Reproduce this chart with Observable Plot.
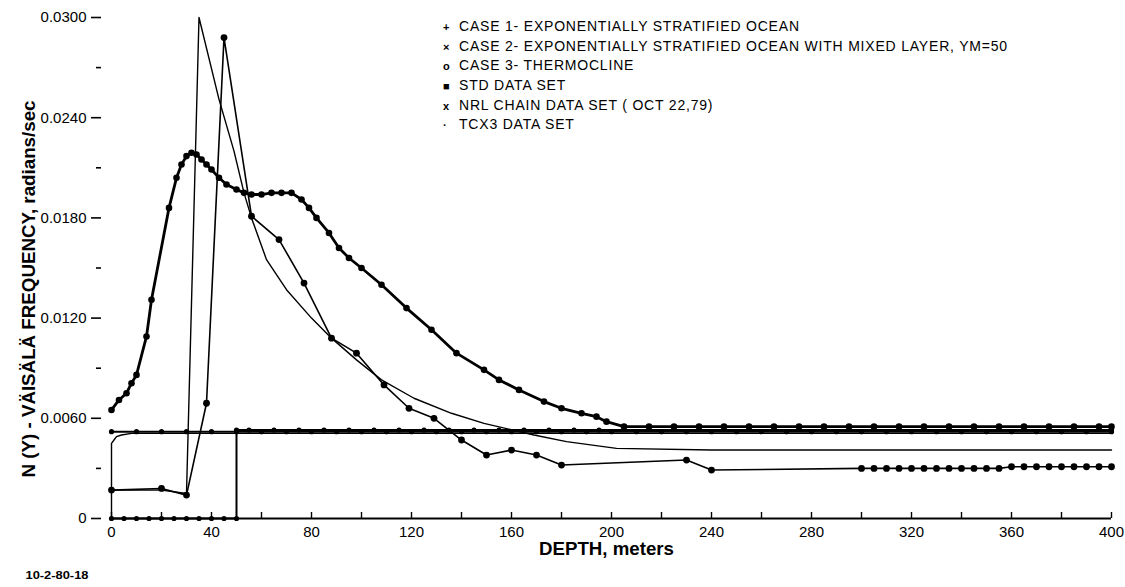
<!DOCTYPE html>
<html><head><meta charset="utf-8">
<script src="https://cdn.jsdelivr.net/npm/d3@7"></script>
<script src="https://cdn.jsdelivr.net/npm/@observablehq/plot@0.6"></script>
<style>
body{margin:0;background:#fff;}
#wrap{position:relative;width:1125px;height:587px;overflow:hidden;}
#legend{position:absolute;left:443px;top:17px;font-family:"Liberation Sans",Arial,sans-serif;font-size:14px;letter-spacing:0.8px;color:#000;white-space:nowrap;}
#legend div{height:19.7px;line-height:19.7px;}
#legend .m{display:inline-block;width:16px;font-weight:bold;letter-spacing:0;font-size:11px;}
</style></head>
<body><div id="wrap"><div id="chart"></div>
<div id="legend">
<div><span class="m">+</span>CASE 1- EXPONENTIALLY STRATIFIED OCEAN</div>
<div><span class="m">×</span>CASE 2- EXPONENTIALLY STRATIFIED OCEAN WITH MIXED LAYER, YM=50</div>
<div><span class="m">o</span>CASE 3- THERMOCLINE</div>
<div><span class="m">■</span>STD DATA SET</div>
<div><span class="m">x</span>NRL CHAIN DATA SET ( OCT 22,79)</div>
<div><span class="m">·</span>TCX3 DATA SET</div>
</div></div>
<script>
// ---- tick values / labels ----
const yMajor = [0, 0.006, 0.012, 0.018, 0.024, 0.030];
const yMajorLabels = ["0", "0.0060", "0.0120", "0.0180", "0.0240", "0.0300"];
const yMinor = [0.003, 0.009, 0.015, 0.021, 0.027];
const xLabelTicks = [0, 40, 80, 120, 160, 200, 240, 280, 320, 360, 400];
const xTickMarks = [0, 20, 40, 60, 80, 100, 120, 140, 160, 180, 200, 220, 240, 260, 280, 300, 320, 340, 360, 380, 400];
const xTitle = "DEPTH, meters";
const yTitle = "N (Y) - VÄISÄLÄ FREQUENCY, radians/sec";
const figCode = "10-2-80-18";

// ---- CASE 1: exponentially stratified ocean ----
const case1Depth = [0,10,20,30,40,50,60,70,80,90,100,110,120,130,140,150,160,170,180,190,200,210,220,230,240,250,260,270,280,290,300,310,320,330,340,350,360,370,380,390,400];
const case1N = [0.0052,0.0052,0.0052,0.0052,0.0052,0.0052,0.0052,0.0052,0.0052,0.0052,0.0052,0.0052,0.0052,0.0052,0.0052,0.0052,0.0052,0.0052,0.0052,0.0052,0.0052,0.0052,0.0052,0.0052,0.0052,0.0052,0.0052,0.0052,0.0052,0.0052,0.0052,0.0052,0.0052,0.0052,0.0052,0.0052,0.0052,0.0052,0.0052,0.0052,0.0052];

// ---- CASE 2: with mixed layer, YM = 50 ----
const case2Depth = [0,5,10,15,20,25,30,35,40,45,50,50,55,65,75,85,95,105,115,125,135,145,155,165,175,185,195,400];
const case2N = [0,0,0,0,0,0,0,0,0,0,0,0.0053,0.0053,0.0053,0.0053,0.0053,0.0053,0.0053,0.0053,0.0053,0.0053,0.0053,0.0053,0.0053,0.0053,0.0053,0.0053,0.0053];

// ---- CASE 3: thermocline ----
const case3Depth = [0,20,30,35,43,49,53,56,62,70,80,88,98,108,121,136,149,169,182,202,240,300,400];
const case3N = [0.0017,0.0017,0.0015,0.0300,0.0251,0.0220,0.0195,0.0180,0.0155,0.0137,0.0120,0.0108,0.0095,0.0083,0.0072,0.0063,0.0057,0.0050,0.0046,0.0042,0.0041,0.0041,0.0041];

// ---- STD data set ----
const stdDepth = [0,3,6,8,10,14,16,23,26,28,30,32,34,36,38,40,43,46,50,53,56,60,64,68,72,76,79,82,87,91,95,100,108,118,128,138,149,155,163,173,180,188,194,198,205,215,225,235,245,255,265,275,285,295,305,315,325,335,345,355,365,375,385,395,400];
const stdN = [0.0065,0.0071,0.0075,0.0081,0.0086,0.0109,0.0131,0.0186,0.0204,0.0212,0.0217,0.0219,0.0218,0.0215,0.0212,0.0209,0.0204,0.0200,0.0197,0.0195,0.0194,0.0194,0.0195,0.0195,0.0195,0.0191,0.0186,0.0180,0.0171,0.0162,0.0156,0.0150,0.0140,0.0126,0.0113,0.0099,0.0089,0.0083,0.0077,0.0070,0.0066,0.0063,0.0061,0.0058,0.0055,0.0055,0.0055,0.0055,0.0055,0.0055,0.0055,0.0055,0.0055,0.0055,0.0055,0.0055,0.0055,0.0055,0.0055,0.0055,0.0055,0.0055,0.0055,0.0055,0.0055];

// ---- NRL chain data set (Oct 22, 79) ----
const nrlDepth = [0,20,30,38,45,56,67,77,88,98,109,119,129,140,150,160,170,180,230,240,300,305,310,315,320,325,330,335,340,345,350,355,360,365,370,375,380,385,390,395,400];
const nrlN = [0.0017,0.0018,0.0014,0.0069,0.0288,0.0181,0.0167,0.0141,0.0108,0.0099,0.0080,0.0066,0.0060,0.0047,0.0038,0.0041,0.0038,0.0032,0.0035,0.0029,0.0030,0.0030,0.0030,0.0030,0.0030,0.0030,0.0030,0.0030,0.0030,0.0030,0.0030,0.0030,0.0031,0.0031,0.0031,0.0031,0.0031,0.0031,0.0031,0.0031,0.0031];

// ---- TCX3 data set ----
const tcxDepth = [0,0,1,2,4,8,15,400];
const tcxN = [0,0.0045,0.0047,0.0049,0.0050,0.0051,0.0051,0.0051];

const zip = (xs, ys) => xs.map((x, i) => ({depth: x, n: ys[i]}));
const case1 = zip(case1Depth, case1N);
const case2 = zip(case2Depth, case2N);
const case3 = zip(case3Depth, case3N);
const std = zip(stdDepth, stdN);
const nrl = zip(nrlDepth, nrlN);
const tcx = zip(tcxDepth, tcxN);

const labelFor = new Map(yMajor.map((v, i) => [v, yMajorLabels[i]]));

const chart = Plot.plot({
  width: 1125, height: 587,
  marginLeft: 101, marginRight: 14, marginTop: 17, marginBottom: 69,
  x: {domain: [-4, 400]},
  y: {domain: [0, 0.030]},
  style: {fontFamily: "'Liberation Sans', Arial, sans-serif", fontSize: "14px", color: "#000", background: "#fff", overflow: "visible"},
  marks: [
    Plot.axisY({ticks: yMajor, tickSize: 10, tickPadding: 5, tickFormat: d => labelFor.get(d), label: null, fontSize: 15, strokeWidth: 1.6}),
    Plot.axisY({ticks: yMinor, tickSize: 5, tickFormat: () => "", label: null, strokeWidth: 1.6}),
    Plot.axisX({ticks: xTickMarks, tickSize: 6, dy: -6, tickFormat: () => "", label: null, strokeWidth: 1.4}),
    Plot.axisX({ticks: xLabelTicks, tickSize: 0, tickPadding: 8, label: null, fontSize: 15}),
    Plot.ruleY([0], {x1: xLabelTicks[0], x2: xLabelTicks[xLabelTicks.length - 1], strokeWidth: 1.8}),
    Plot.text([xTitle], {frameAnchor: "bottom", dy: 36, text: d => d, fontSize: 18, fontWeight: 600, className: "xlab"}),
    Plot.text([yTitle], {frameAnchor: "left", textAnchor: "middle", dx: -73, dy: 21, rotate: -90, text: d => d, fontSize: 19, fontWeight: "bold", className: "ylab"}),
    Plot.text([figCode], {frameAnchor: "bottom-left", textAnchor: "start", dx: -76, dy: 60, text: d => d, fontSize: 11, fontWeight: "bold", className: "code"}),

    Plot.line(tcx, {x: "depth", y: "n", stroke: "#000", strokeWidth: 1.4}),
    Plot.line(case1, {x: "depth", y: "n", stroke: "#000", strokeWidth: 2}),
    Plot.line(case2, {x: "depth", y: "n", stroke: "#000", strokeWidth: 2}),
    Plot.line(case3, {x: "depth", y: "n", stroke: "#000", strokeWidth: 1.4}),
    Plot.line(nrl, {x: "depth", y: "n", stroke: "#000", strokeWidth: 1.6}),
    Plot.line(std, {x: "depth", y: "n", stroke: "#000", strokeWidth: 2.8}),

    Plot.dot(case1, {x: "depth", y: "n", r: 2.6, fill: "#000"}),
    Plot.dot(case2, {x: "depth", y: "n", r: 2.6, fill: "#000"}),
    Plot.dot(nrl, {x: "depth", y: "n", r: 3.4, fill: "#000"}),
    Plot.dot(std, {x: "depth", y: "n", r: 3.3, fill: "#000"})
  ]
});
document.getElementById("chart").appendChild(chart);
chart.querySelectorAll(".ylab text").forEach(t => { t.setAttribute("textLength", 377); t.setAttribute("lengthAdjust", "spacingAndGlyphs"); });
chart.querySelectorAll(".xlab text").forEach(t => { t.setAttribute("textLength", 135); t.setAttribute("lengthAdjust", "spacingAndGlyphs"); });
chart.querySelectorAll(".code text").forEach(t => { t.setAttribute("textLength", 63); t.setAttribute("lengthAdjust", "spacingAndGlyphs"); });
</script>
</body></html>
